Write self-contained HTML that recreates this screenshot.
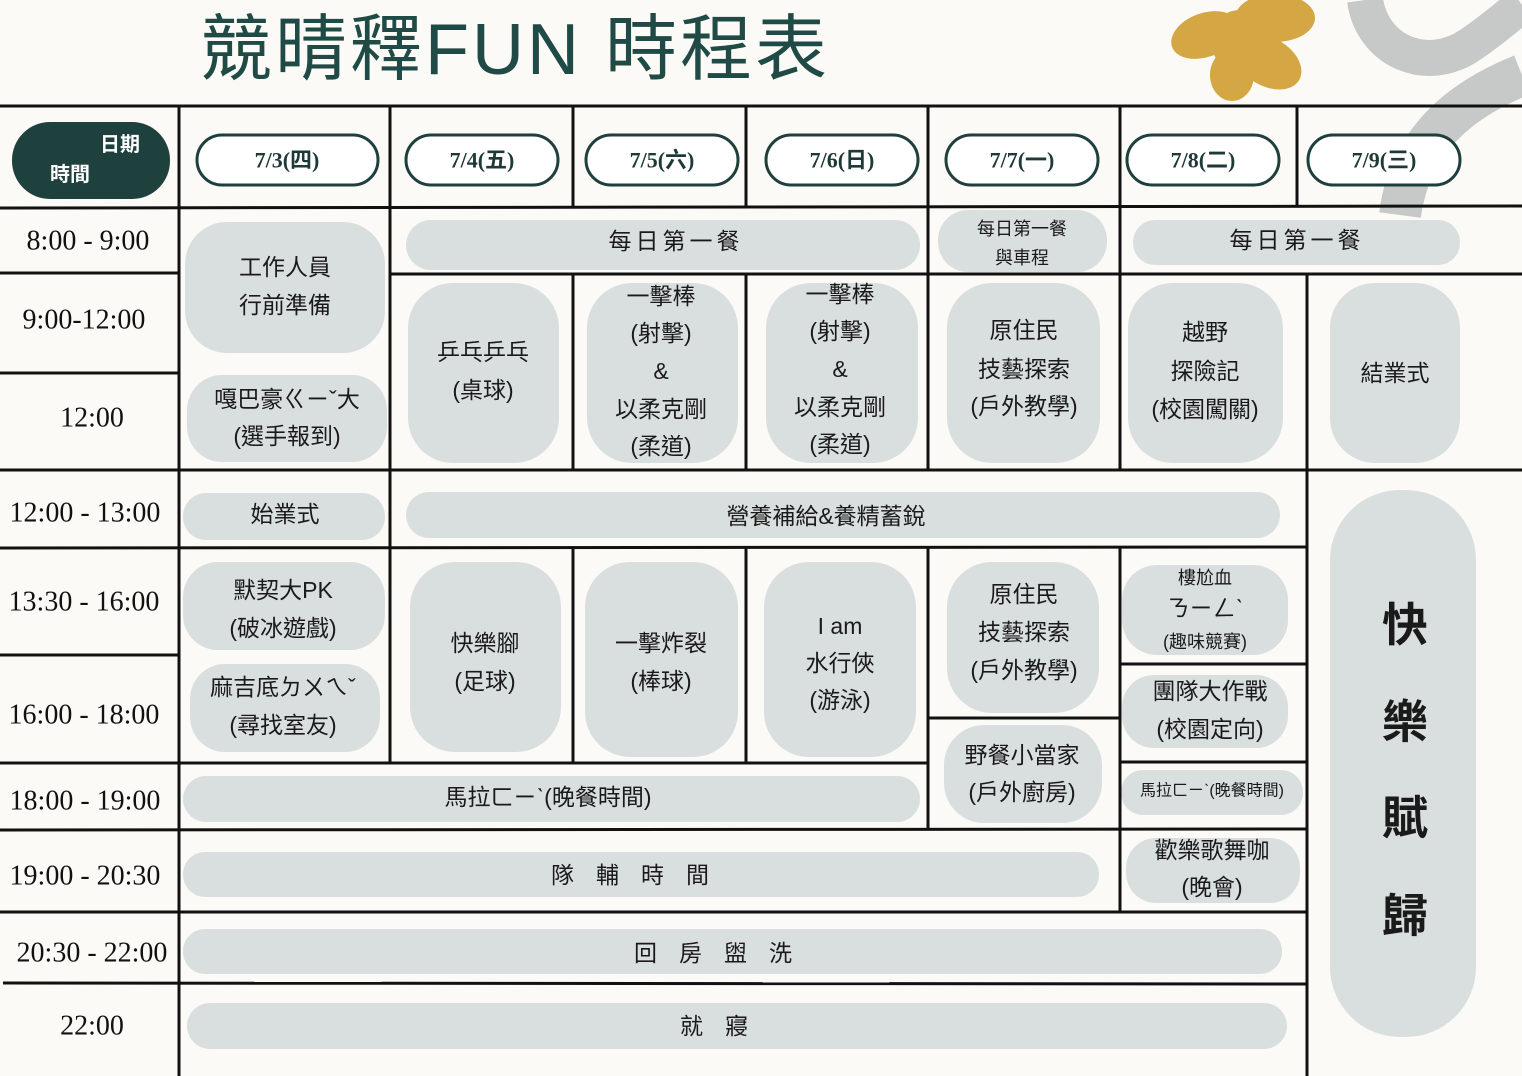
<!DOCTYPE html>
<html><head><meta charset="utf-8"><style>
html,body{margin:0;padding:0;background:#fcfaf7;}
svg{display:block}
.t{font-family:"Liberation Serif","Noto Serif CJK SC",serif;font-size:28px;fill:#111;text-anchor:middle;dominant-baseline:central}
.d{font-family:"Liberation Serif","Noto Sans CJK TC",serif;font-size:22px;font-weight:bold;fill:#1e3a38;text-anchor:middle;dominant-baseline:central}
.p{font-family:"Liberation Sans","Noto Sans CJK TC",sans-serif;font-size:23px;fill:#1a1a1a;text-anchor:middle;dominant-baseline:central}
.s{font-size:18px}
.pill{fill:#d9dfdf}
.ln{stroke:#111;stroke-width:3;fill:none}
.dp{fill:#fff;stroke:#1e3f3c;stroke-width:3}
</style></head><body>
<svg width="1522" height="1076" viewBox="0 0 1522 1076" xmlns="http://www.w3.org/2000/svg">
<rect width="1522" height="1076" fill="#fcfaf7"/>
<!-- decorations -->
<g fill="#d4a744">
<ellipse cx="1205" cy="35" rx="35" ry="22" transform="rotate(-20 1205 35)"/>
<ellipse cx="1275" cy="18" rx="40" ry="24"/>
<ellipse cx="1268" cy="62" rx="36" ry="24" transform="rotate(30 1268 62)"/>
<ellipse cx="1232" cy="75" rx="22" ry="26"/>
<circle cx="1240" cy="40" r="30"/>
</g>
<path d="M1365,0 C1372,50 1425,75 1470,45 C1495,28 1515,10 1522,5" stroke="#c6c9c7" stroke-width="36" fill="none"/>
<path d="M1522,75 C1460,100 1410,140 1400,215" stroke="#c6c9c7" stroke-width="42" fill="none"/>
<!-- title -->
<text x="200" y="50" style="font-family:'Liberation Sans','Noto Sans CJK TC',sans-serif;font-size:72px;letter-spacing:3px;fill:#1f4a45;dominant-baseline:central">競晴釋FUN 時程表</text>

<!-- pills -->
<g class="pill">
<rect x="185" y="222" width="200" height="131" rx="42"/>
<rect x="187" y="375" width="200" height="87" rx="35"/>
<rect x="406" y="220" width="514" height="50" rx="25"/>
<rect x="938" y="210" width="169" height="62" rx="30"/>
<rect x="1133" y="220" width="327" height="45" rx="22"/>
<rect x="408" y="283" width="151" height="180" rx="45"/>
<rect x="587" y="283" width="151" height="180" rx="45"/>
<rect x="766" y="283" width="152" height="180" rx="45"/>
<rect x="947" y="283" width="153" height="180" rx="45"/>
<rect x="1128" y="283" width="155" height="180" rx="45"/>
<rect x="1330" y="283" width="130" height="180" rx="45"/>
<rect x="183" y="493" width="202" height="47" rx="23"/>
<rect x="406" y="492" width="874" height="46" rx="23"/>
<rect x="1330" y="490" width="146" height="547" rx="70"/>
<rect x="183" y="562" width="202" height="88" rx="35"/>
<rect x="190" y="664" width="190" height="88" rx="35"/>
<rect x="410" y="562" width="151" height="190" rx="45"/>
<rect x="585" y="562" width="153" height="195" rx="45"/>
<rect x="764" y="562" width="152" height="195" rx="45"/>
<rect x="947" y="562" width="152" height="151" rx="45"/>
<rect x="1122" y="565" width="166" height="90" rx="35"/>
<rect x="944" y="725" width="158" height="98" rx="40"/>
<rect x="1122" y="675" width="166" height="73" rx="32"/>
<rect x="183" y="776" width="737" height="46" rx="23"/>
<rect x="1121" y="770" width="182" height="45" rx="22"/>
<rect x="183" y="852" width="916" height="45" rx="22"/>
<rect x="1126" y="838" width="174" height="65" rx="30"/>
<rect x="183" y="929" width="1099" height="45" rx="22"/>
<rect x="187" y="1003" width="1100" height="46" rx="23"/>
</g>

<!-- lines -->
<g class="ln">
<line x1="0" y1="106" x2="1522" y2="106"/>
<line x1="0" y1="208" x2="1522" y2="206"/>
<line x1="0" y1="273" x2="179" y2="273"/>
<line x1="390" y1="274" x2="1522" y2="274"/>
<line x1="0" y1="373" x2="179" y2="373"/>
<line x1="0" y1="470" x2="1522" y2="470"/>
<line x1="0" y1="548" x2="1307" y2="547"/>
<line x1="0" y1="655" x2="179" y2="655"/>
<line x1="0" y1="763" x2="928" y2="763"/>
<line x1="928" y1="718" x2="1120" y2="718"/>
<line x1="1120" y1="664" x2="1307" y2="664"/>
<line x1="1120" y1="762" x2="1307" y2="762"/>
<line x1="0" y1="830" x2="1307" y2="829"/>
<line x1="0" y1="912" x2="1307" y2="912"/>
<line x1="3" y1="983" x2="1307" y2="984"/>
<line x1="179" y1="106" x2="179" y2="1076"/>
<line x1="390" y1="106" x2="390" y2="763"/>
<line x1="573" y1="106" x2="573" y2="208"/>
<line x1="746" y1="106" x2="746" y2="208"/>
<line x1="928" y1="106" x2="928" y2="470"/>
<line x1="1120" y1="106" x2="1120" y2="470"/>
<line x1="1297" y1="106" x2="1297" y2="206"/>
<line x1="573" y1="274" x2="573" y2="470"/>
<line x1="746" y1="274" x2="746" y2="470"/>
<line x1="1307" y1="274" x2="1307" y2="1076"/>
<line x1="573" y1="548" x2="573" y2="763"/>
<line x1="746" y1="548" x2="746" y2="763"/>
<line x1="928" y1="548" x2="928" y2="830"/>
<line x1="1120" y1="548" x2="1120" y2="912"/>
</g>

<!-- header -->
<rect x="12" y="122" width="158" height="77" rx="38" fill="#1f413e"/>
<text x="120" y="145" style="font-family:'Liberation Sans','Noto Sans CJK TC',sans-serif;font-size:20px;font-weight:bold;fill:#fff;text-anchor:middle;dominant-baseline:central">日期</text>
<text x="70" y="175" style="font-family:'Liberation Sans','Noto Sans CJK TC',sans-serif;font-size:20px;font-weight:bold;fill:#fff;text-anchor:middle;dominant-baseline:central">時間</text>
<rect class="dp" x="197" y="135" width="181" height="50" rx="25"/>
<rect class="dp" x="406" y="135" width="152" height="50" rx="25"/>
<rect class="dp" x="586" y="135" width="152" height="50" rx="25"/>
<rect class="dp" x="766" y="135" width="152" height="50" rx="25"/>
<rect class="dp" x="946" y="135" width="152" height="50" rx="25"/>
<rect class="dp" x="1127" y="135" width="152" height="50" rx="25"/>
<rect class="dp" x="1308" y="135" width="152" height="50" rx="25"/>
<text class="d" x="287" y="160">7/3(四)</text>
<text class="d" x="482" y="160">7/4(五)</text>
<text class="d" x="662" y="160">7/5(六)</text>
<text class="d" x="842" y="160">7/6(日)</text>
<text class="d" x="1022" y="160">7/7(一)</text>
<text class="d" x="1203" y="160">7/8(二)</text>
<text class="d" x="1384" y="160">7/9(三)</text>

<!-- times -->
<text class="t" x="88" y="241">8:00 - 9:00</text>
<text class="t" x="84" y="320">9:00-12:00</text>
<text class="t" x="92" y="418">12:00</text>
<text class="t" x="85" y="513">12:00 - 13:00</text>
<text class="t" x="84" y="602">13:30 - 16:00</text>
<text class="t" x="84" y="715">16:00 - 18:00</text>
<text class="t" x="85" y="801">18:00 - 19:00</text>
<text class="t" x="85" y="876">19:00 - 20:30</text>
<text class="t" x="92" y="953">20:30 - 22:00</text>
<text class="t" x="92" y="1026">22:00</text>

<!-- activities -->
<g class="p">
<text x="285" y="267">工作人員</text><text x="285" y="305">行前準備</text>
<text x="287" y="399">嘎巴豪ㄍㄧˇ大</text><text x="287" y="436">(選手報到)</text>
<text x="676" y="241" letter-spacing="4">每日第一餐</text>
<text x="1022" y="229" class="s">每日第一餐</text><text x="1022" y="258" class="s">與車程</text>
<text x="1297" y="240" letter-spacing="4">每日第一餐</text>
<text x="483" y="352">乒乓乒乓</text><text x="483" y="390">(桌球)</text>
<text x="661" y="296">一擊棒</text><text x="661" y="333">(射擊)</text><text x="661" y="371">&amp;</text><text x="661" y="409">以柔克剛</text><text x="661" y="446">(柔道)</text>
<text x="840" y="294">一擊棒</text><text x="840" y="331">(射擊)</text><text x="840" y="369">&amp;</text><text x="840" y="407">以柔克剛</text><text x="840" y="444">(柔道)</text>
<text x="1024" y="330">原住民</text><text x="1024" y="369">技藝探索</text><text x="1024" y="406">(戶外教學)</text>
<text x="1205" y="332">越野</text><text x="1205" y="371">探險記</text><text x="1205" y="409">(校園闖關)</text>
<text x="1395" y="373">結業式</text>
<text x="285" y="514">始業式</text>
<text x="826" y="516">營養補給&amp;養精蓄銳</text>
<text x="283" y="590">默契大PK</text><text x="283" y="628">(破冰遊戲)</text>
<text x="283" y="687">麻吉底ㄉㄨㄟˇ</text><text x="283" y="725">(尋找室友)</text>
<text x="485" y="643">快樂腳</text><text x="485" y="681">(足球)</text>
<text x="661" y="643">一擊炸裂</text><text x="661" y="681">(棒球)</text>
<text x="840" y="626">I am</text><text x="840" y="663">水行俠</text><text x="840" y="700">(游泳)</text>
<text x="1024" y="594">原住民</text><text x="1024" y="632">技藝探索</text><text x="1024" y="670">(戶外教學)</text>
<text x="1205" y="578" class="s">樓尬血</text><text x="1205" y="608">ㄋㄧㄥˋ</text><text x="1205" y="642" class="s">(趣味競賽)</text>
<text x="1210" y="691">團隊大作戰</text><text x="1210" y="729">(校園定向)</text>
<text x="1022" y="755">野餐小當家</text><text x="1022" y="792">(戶外廚房)</text>
<text x="548" y="797">馬拉ㄈㄧˋ(晚餐時間)</text>
<text x="1212" y="791" style="font-size:16px">馬拉ㄈㄧˋ(晚餐時間)</text>
<text x="641" y="875" letter-spacing="22">隊輔時間</text>
<text x="1212" y="850">歡樂歌舞咖</text><text x="1212" y="887">(晚會)</text>
<text x="724" y="953" letter-spacing="22">回房盥洗</text>
<text x="725" y="1026" letter-spacing="22">就寢</text>
</g>
<g class="p" style="font-size:46px;font-weight:bold">
<text x="1405" y="625">快</text><text x="1405" y="722">樂</text><text x="1405" y="818">賦</text><text x="1405" y="916">歸</text>
</g>
</svg>
</body></html>
